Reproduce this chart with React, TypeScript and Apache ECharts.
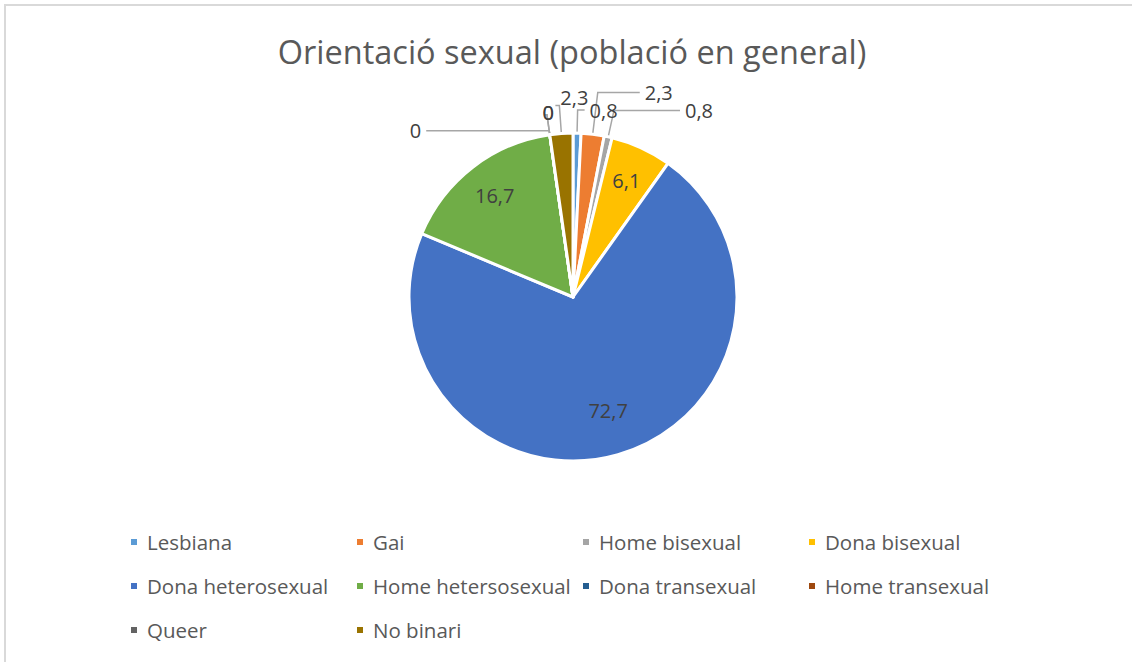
import React, { useEffect, useRef } from "react";
import * as echarts from "echarts";

const chartTitle = "Orientació sexual (població en general)";
const categories = [
  "Lesbiana",
  "Gai",
  "Home bisexual",
  "Dona bisexual",
  "Dona heterosexual",
  "Home hetersosexual",
  "Dona transexual",
  "Home transexual",
  "Queer",
  "No binari",
];
const values = [0.8, 2.3, 0.8, 6.1, 72.7, 16.7, 0, 0, 0, 2.3];
const colors = [
  "#5B9BD5",
  "#ED7D31",
  "#A5A5A5",
  "#FFC000",
  "#4472C4",
  "#70AD47",
  "#255E91",
  "#9E480E",
  "#636363",
  "#997300",
];
const insideLabelled = ["Dona bisexual", "Dona heterosexual", "Home hetersosexual"];
// leader line segment lengths [radial, horizontal] for the outside labels
const leaderLengths: Record<string, [number, number]> = {
  Lesbiana: [23, 7],
  Gai: [42, 42],
  "Home bisexual": [27, 66],
  "Dona transexual": [4, 123],
  "Home transexual": [20, 2],
  Queer: [20, 2],
  "No binari": [28, 4],
};
// small label nudges [dx, dy]
const labelNudges: Record<string, [number, number]> = {
  "No binari": [38, -8],
  "Home transexual": [14, -2],
  Queer: [14, -2],
};
const insideNudges: Record<string, [number, number]> = {
  "Dona heterosexual": [0, -10],
};

const FONT = "'Open Sans', 'Noto Sans', sans-serif";
const fmt = (v: number) => String(v).replace(".", ",");

export default function App() {
  const ref = useRef<HTMLDivElement>(null);
  useEffect(() => {
    document.body.style.margin = "0";
    if (!ref.current) return;
    const chart = echarts.init(ref.current, undefined, { renderer: "svg" });
    const cx = 573;
    const cy = 297;
    const R = 164;
    chart.setOption({
      animation: false,
      backgroundColor: "#ffffff",
      color: colors,
      graphic: [
        {
          type: "rect",
          z: -10,
          shape: { x: 5, y: 5, width: 1300, height: 900 },
          style: { fill: "none", stroke: "#D9D9D9", lineWidth: 2 },
        },
        {
          type: "text",
          x: 572,
          y: 51,
          style: {
            text: chartTitle,
            align: "center",
            verticalAlign: "middle",
            fill: "#595959",
            font: `400 32.5px ${FONT}`,
          },
        },
      ],
      legend: {
        data: categories,
        left: 124,
        top: 520,
        width: 910,
        orient: "horizontal",
        icon: "rect",
        itemWidth: 8,
        itemHeight: 8,
        itemGap: 10,
        textStyle: {
          color: "#595959",
          fontFamily: FONT,
          fontSize: 20.5,
          width: 198,
          lineHeight: 34,
          padding: [0, 0, 0, 4],
        },
      },
      series: [
        {
          type: "pie",
          center: [cx, cy],
          radius: R,
          startAngle: 90,
          clockwise: true,
          avoidLabelOverlap: false,
          itemStyle: { borderColor: "#ffffff", borderWidth: 3 },
          label: {
            show: true,
            position: "outside",
            color: "#404040",
            fontFamily: FONT,
            fontSize: 20,
            formatter: (p: any) => fmt(p.value),
          },
          labelLine: {
            show: true,
            lineStyle: { color: "#A6A6A6", width: 1.5 },
          },
          labelLayout: (p: any) => {
            const n = labelNudges[categories[p.dataIndex]];
            return n ? { dx: n[0], dy: n[1] } : {};
          },
          data: categories.map((name, i) => {
            const inside = insideLabelled.includes(name);
            const len = leaderLengths[name] || [10, 10];
            return {
              name,
              value: values[i],
              itemStyle: { color: colors[i] },
              label: { show: !inside },
              labelLine: { show: !inside, length: len[0], length2: len[1] },
            };
          }),
        },
        {
          type: "pie",
          center: [cx, cy],
          radius: [86, R],
          startAngle: 90,
          clockwise: true,
          silent: true,
          legendHoverLink: false,
          itemStyle: { color: "rgba(0,0,0,0)", borderWidth: 0 },
          label: {
            show: true,
            position: "inside",
            color: "#404040",
            fontFamily: FONT,
            fontSize: 20,
            formatter: (p: any) => fmt(p.value),
          },
          labelLine: { show: false },
          labelLayout: (p: any) => {
            const n = insideNudges[categories[p.dataIndex]];
            return n ? { dx: n[0], dy: n[1] } : {};
          },
          data: categories.map((name, i) => ({
            name,
            value: values[i],
            label: { show: insideLabelled.includes(name) },
          })),
        },
      ],
    });
    return () => chart.dispose();
  }, []);
  return <div ref={ref} style={{ width: 1132, height: 662 }} />;
}
